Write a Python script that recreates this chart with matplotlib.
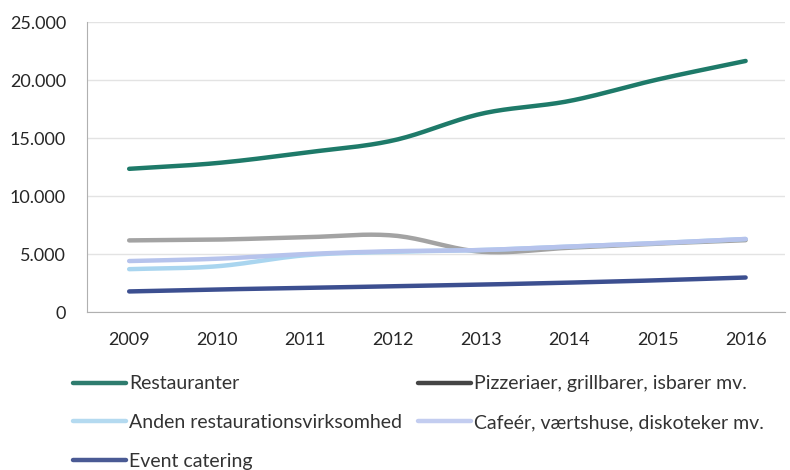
import numpy as np
import matplotlib
matplotlib.use("Agg")
import matplotlib.pyplot as plt
from matplotlib.ticker import FuncFormatter
from matplotlib.lines import Line2D

years = [2009, 2010, 2011, 2012, 2013, 2014, 2015, 2016]
restauranter = [12350, 12850, 13750, 14800, 17100, 18200, 20050, 21650]
pizzeriaer = [6180, 6250, 6450, 6600, 5200, 5550, 5900, 6200]
anden = [3700, 3950, 4900, 5200, 5350, 5650, 5950, 6300]
cafeer = [4400, 4600, 5000, 5250, 5350, 5650, 5950, 6300]
event = [1780, 1950, 2080, 2230, 2370, 2540, 2740, 2980]

series = [
    ("Restauranter", restauranter, "#1e7a69", "#2e7c6e"),
    ("Pizzeriaer, grillbarer, isbarer mv.", pizzeriaer, "#a3a3a3", "#454545"),
    ("Anden restaurationsvirksomhed", anden, "#a9d5ef", "#b4daf0"),
    ("Cafeér, værtshuse, diskoteker mv.", cafeer, "#b6c3ec", "#c3cdf0"),
    ("Event catering", event, "#3c4f90", "#4a5a94"),
]
y_ticks = [0, 5000, 10000, 15000, 20000, 25000]

plt.rcParams['font.family'] = ['Lato', 'DejaVu Sans']


def smooth(x, y, n=20):
    x = np.asarray(x, float)
    y = np.asarray(y, float)
    px = np.concatenate([[2 * x[0] - x[1]], x, [2 * x[-1] - x[-2]]])
    py = np.concatenate([[2 * y[0] - y[1]], y, [2 * y[-1] - y[-2]]])
    xs, ys = [], []
    for i in range(1, len(px) - 2):
        t = np.linspace(0, 1, n, endpoint=False)
        for arr, out in ((px, xs), (py, ys)):
            p0, p1, p2, p3 = arr[i - 1], arr[i], arr[i + 1], arr[i + 2]
            out.extend(0.5 * ((2 * p1) + (-p0 + p2) * t +
                              (2 * p0 - 5 * p1 + 4 * p2 - p3) * t ** 2 +
                              (-p0 + 3 * p1 - 3 * p2 + p3) * t ** 3))
    xs.append(x[-1])
    ys.append(y[-1])
    return np.array(xs), np.array(ys)


fig = plt.figure(figsize=(7.9, 4.7), dpi=100)
ax = fig.add_axes([0.110, 0.336, 0.884, 0.617])

handles = {}
for name, vals, col, lcol in series:
    sx, sy = smooth(years, vals)
    ax.plot(sx, sy, color=col, lw=3.2, solid_capstyle='round')
    handles[name] = Line2D([], [], color=lcol, lw=3.2, solid_capstyle='round')

ax.set_ylim(0, 25000)
ax.set_xlim(years[0] - 0.48, years[-1] + 0.45)
ax.set_yticks(y_ticks)
ax.yaxis.set_major_formatter(FuncFormatter(lambda v, p: f"{int(v):,}".replace(",", ".")))
ax.set_xticks(years)
ax.set_xticklabels([str(y) for y in years])
ax.tick_params(axis='both', length=0, labelsize=13, labelcolor='#262626')
ax.tick_params(axis='x', pad=14)
ax.tick_params(axis='y', pad=15)
ax.grid(axis='y', color='#e3e3e3', lw=1)
ax.set_axisbelow(True)
for s in ['top', 'right']:
    ax.spines[s].set_visible(False)
ax.spines['left'].set_color('#b0b0b0')
ax.spines['bottom'].set_color('#b0b0b0')

order = ["Restauranter", "Anden restaurationsvirksomhed", "Event catering",
         "Pizzeriaer, grillbarer, isbarer mv.", "Cafeér, værtshuse, diskoteker mv."]
leg = fig.legend([handles[n] for n in order], order, ncol=2, loc='upper left',
                 bbox_to_anchor=(0.083, 0.218), frameon=False, fontsize=14,
                 handlelength=2.7, handletextpad=0.15, columnspacing=0.85,
                 labelspacing=1.13, borderaxespad=0)
for t in leg.get_texts():
    t.set_color('#333333')

fig.savefig("out.png", dpi=100)
